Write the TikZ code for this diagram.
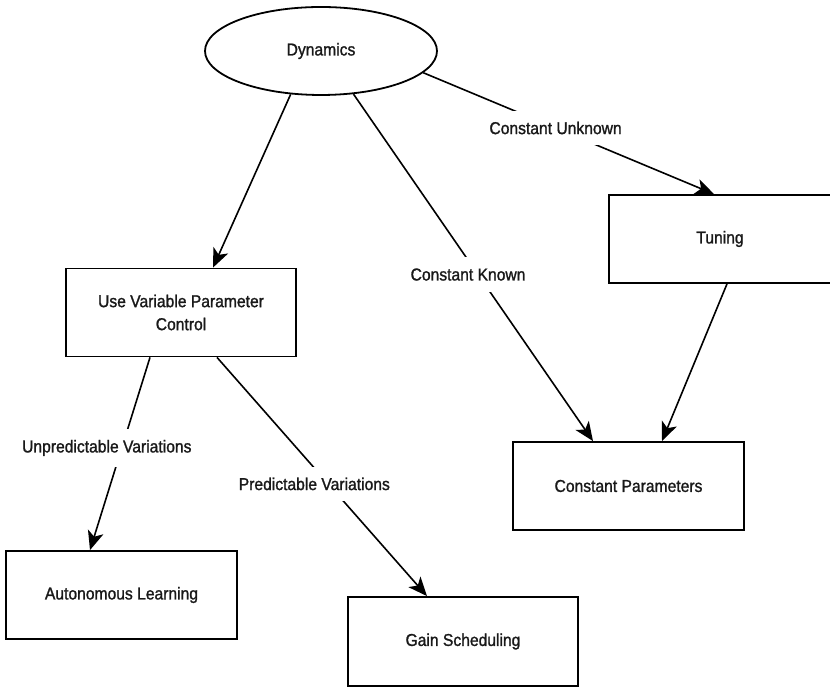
\documentclass[tikz,border=0pt]{standalone}
\usepackage{fontspec}
\setmainfont{Liberation Sans}[FakeStretch=0.91, FakeBold=1.3]
\usetikzlibrary{arrows.meta,shapes.geometric}

\tikzset{
  every node/.style={font=\fontsize{17.2}{23}\selectfont, text=black!90},
  box/.style={draw, line width=1.8pt, rectangle, inner sep=0pt,
              minimum width=230pt, minimum height=88pt, align=center},
  oval/.style={draw, line width=1.8pt, ellipse, inner sep=0pt,
               minimum width=232pt, minimum height=88pt},
  link/.style={line width=1.6pt, -{Stealth[length=19pt,width=16pt,inset=5pt]}},
  tag/.style={fill=white, inner xsep=3pt, inner ysep=11pt}
}

\begin{document}
\begin{tikzpicture}[x=1pt,y=1pt]
  \useasboundingbox (0,0) rectangle (830,687);

  % nodes
  \node[oval] (dyn)  at (321,636)   {Dynamics};
  \node[box]  (uvpc) at (181,374.5) {Use Variable Parameter\\Control};
  \node[box, minimum width=222pt] (tun) at (720,448) {Tuning};
  \node[box, minimum width=231pt] (cp)  at (628.5,201) {Constant Parameters};
  \node[box, minimum width=231pt] (al)  at (121.5,92)  {Autonomous Learning};
  \node[box, minimum height=89pt] (gs)  at (463,45.5)  {Gain Scheduling};

  % connectors
  \draw[link] (dyn.235) -- ([xshift=32pt]uvpc.north);
  \draw[link] (dyn.307) -- node[tag, pos=0.52, xshift=-10pt] {Constant Known}
              ([xshift=-35.5pt]cp.north);
  \draw[link] (dyn.348) -- node[tag, pos=0.455] {Constant Unknown}
              ([xshift=-6pt]tun.north);
  \draw[link] ([xshift=7pt]tun.south) -- ([xshift=33.5pt]cp.north);
  \draw[link] ([xshift=-31pt]uvpc.south) -- node[tag, pos=0.47, xshift=-15pt] {Unpredictable Variations}
              ([xshift=-31.5pt]al.north);
  \draw[link] ([xshift=36pt]uvpc.south) -- node[tag, pos=0.53, xshift=-14pt] {Predictable Variations}
              ([xshift=-36pt]gs.north);
\end{tikzpicture}
\end{document}
